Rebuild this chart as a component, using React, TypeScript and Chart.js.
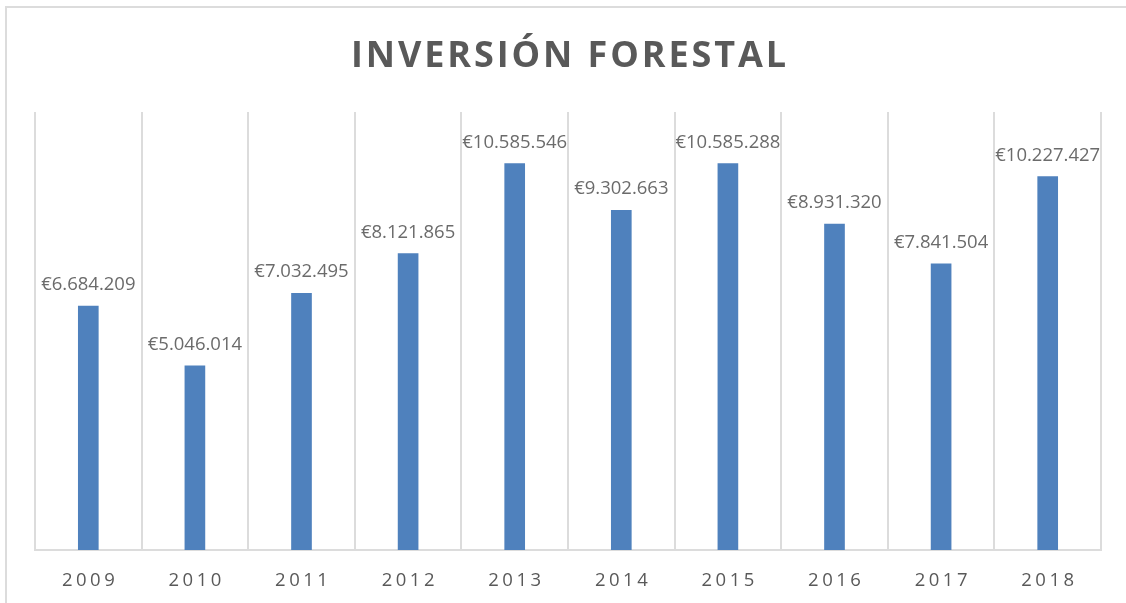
import React, { useEffect, useRef } from "react";
import { Chart, registerables } from "chart.js";

Chart.register(...registerables);

const TITLE = "INVERSIÓN FORESTAL";
const categories = ["2009", "2010", "2011", "2012", "2013", "2014", "2015", "2016", "2017", "2018"];
const inversion = [6684209, 5046014, 7032495, 8121865, 10585546, 9302663, 10585288, 8931320, 7841504, 10227427];
const yMin = 0;
const yMax = 12000000;

const TEXT_COLOR = "#595959";
const LABEL_COLOR = "#6b6b6b";
const GRID_COLOR = "#dcdcdc";
const BAR_COLOR = "#4F81BD";
const FONT = "'Open Sans', 'Liberation Sans', sans-serif";

function formatEuro(v: number): string {
  return "€" + String(Math.round(v)).replace(/\B(?=(\d{3})+(?!\d))/g, ".");
}

function drawSpaced(ctx: CanvasRenderingContext2D, text: string, cx: number, y: number, spacing: number) {
  const chars = Array.from(text);
  const widths = chars.map((c) => ctx.measureText(c).width);
  const total = widths.reduce((a, b) => a + b, 0) + spacing * (chars.length - 1);
  let x = cx - total / 2;
  ctx.textAlign = "left";
  chars.forEach((c, i) => {
    ctx.fillText(c, x, y);
    x += widths[i] + spacing;
  });
}

const textPlugin = {
  id: "textPlugin",
  afterDraw(chart: any) {
    const ctx: CanvasRenderingContext2D = chart.ctx;
    const area = chart.chartArea;
    ctx.save();
    ctx.textBaseline = "alphabetic";

    // title
    ctx.fillStyle = TEXT_COLOR;
    ctx.font = `bold 36px ${FONT}`;
    drawSpaced(ctx, TITLE, (area.left + area.right) / 2 + 0.5, 66.5, 2.9);

    // data labels
    ctx.fillStyle = LABEL_COLOR;
    ctx.font = `18.5px ${FONT}`;
    ctx.textAlign = "center";
    const meta = chart.getDatasetMeta(0);
    meta.data.forEach((bar: any, i: number) => {
      ctx.fillText(formatEuro(inversion[i]), bar.x, bar.y - 16);
    });

    // category labels
    ctx.fillStyle = TEXT_COLOR;
    const xs = chart.scales.x;
    ctx.font = `18.5px ${FONT}`;
    categories.forEach((c, i) => {
      drawSpaced(ctx, c, xs.getPixelForTick(i), area.bottom + 36, 3.5);
    });
    ctx.restore();
  },
};

export default function App() {
  const ref = useRef<HTMLCanvasElement | null>(null);
  useEffect(() => {
    if (!ref.current) return;
    const chart = new Chart(ref.current, {
      type: "bar",
      data: {
        labels: categories,
        datasets: [
          {
            data: inversion,
            backgroundColor: BAR_COLOR,
            borderWidth: 0,
            barThickness: 20,
          },
        ],
      },
      options: {
        responsive: false,
        animation: false,
        devicePixelRatio: 1,
        layout: { padding: { left: 35, right: 25, top: 112, bottom: 53 } },
        plugins: {
          legend: { display: false },
          title: { display: false },
          tooltip: { enabled: false },
        },
        scales: {
          x: {
            offset: true,
            grid: { display: true, offset: true, color: GRID_COLOR, lineWidth: 2, drawTicks: false },
            border: { display: true, color: GRID_COLOR, width: 2 },
            ticks: { display: false },
          },
          y: {
            display: false,
            min: yMin,
            max: yMax,
          },
        },
      },
      plugins: [textPlugin],
    });
    return () => chart.destroy();
  }, []);

  return (
    <div style={{ position: "fixed", left: 0, top: 0, width: 1126, height: 603, overflow: "hidden", background: "#fff" }}>
      <div
        style={{
          position: "absolute",
          left: 5,
          top: 6,
          width: 1300,
          height: 800,
          border: `2px solid ${GRID_COLOR}`,
          boxSizing: "border-box",
        }}
      />
      <canvas ref={ref} width={1126} height={603} style={{ position: "absolute", left: 0, top: 0, display: "block" }} />
    </div>
  );
}
